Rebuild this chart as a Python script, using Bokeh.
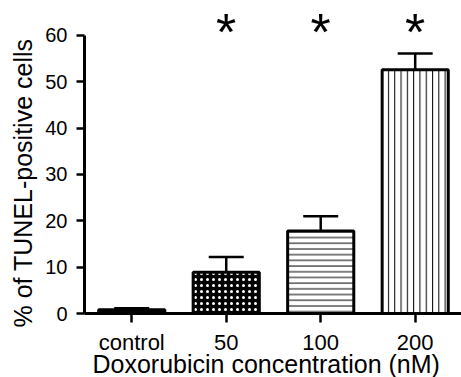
import math
from bokeh.plotting import figure
from bokeh.models import (ColumnDataSource, Whisker, TeeHead, FixedTicker, Range1d, Title)
from bokeh.core.properties import value
from bokeh.embed import file_html
from bokeh.resources import INLINE

# ---- data ----
categories = ["control", "50", "100", "200"]
means = [0.8, 8.9, 17.8, 52.6]
errors = [0.35, 3.3, 3.2, 3.5]
significance = ["", "*", "*", "*"]
y_ticks = [0, 10, 20, 30, 40, 50, 60]
x_label = "Doxorubicin concentration (nM)"
y_label = "% of TUNEL-positive cells"

xs = list(range(len(categories)))

FONT = "Liberation Sans"

p = figure(width=461, height=377, output_backend="svg", toolbar_location=None,
           x_range=Range1d(-0.5, 3.49), y_range=Range1d(0, 67.55),
           min_border_left=84, min_border_right=0, min_border_top=0, min_border_bottom=64)
p.outline_line_color = None
p.grid.visible = False
p.background_fill_color = "white"

styles = [
    dict(fill_color="black", hatch_pattern=" "),
    dict(fill_color="black", hatch_pattern="dot", hatch_color="white",
         hatch_scale=6, hatch_weight=4),
    dict(fill_color="white", hatch_pattern="horizontal_line", hatch_color="black",
         hatch_scale=5.7, hatch_weight=1),
    dict(fill_color="white", hatch_pattern="vertical_line", hatch_color="black",
         hatch_scale=6.3, hatch_weight=1),
]

for i in xs:
    p.vbar(x=[xs[i]], top=[means[i]], bottom=0, width=0.70, line_color="black",
           line_width=3, **styles[i])

src = ColumnDataSource(dict(x=xs,
                            upper=[m + e for m, e in zip(means, errors)],
                            lower=[m - e for m, e in zip(means, errors)]))
wh = Whisker(base="x", upper="upper", lower="lower", source=src,
             line_color="black", line_width=2.5,
             upper_head=TeeHead(size=35, line_width=2.5, line_color="black"),
             lower_head=TeeHead(size=35, line_width=2.5, line_color="black"))
p.add_layout(wh)

# significance asterisks
p.text(x=xs, y=[60.85] * len(xs), text=significance, text_align="center",
       text_baseline="alphabetic", text_font=value(FONT), text_font_size="52px",
       text_color="black")

# axes
xa = p.xaxis[0]
xa.ticker = FixedTicker(ticks=xs)
xa.major_label_overrides = {i: c for i, c in zip(xs, categories)}
xa.axis_line_width = 3
xa.major_tick_line_width = 2.5
xa.major_tick_out = 9
xa.major_tick_in = 0
xa.minor_tick_line_color = None
xa.major_label_text_font = FONT
xa.major_label_text_font_size = "22px"
xa.major_label_text_color = "black"
xa.major_label_standoff = 7

ya = p.yaxis[0]
ya.ticker = FixedTicker(ticks=y_ticks)
ya.bounds = (0, 60)
ya.axis_line_width = 3
ya.major_tick_line_width = 2.5
ya.major_tick_out = 8
ya.major_tick_in = 0
ya.minor_tick_line_color = None
ya.major_label_text_font = FONT
ya.major_label_text_font_size = "20px"
ya.major_label_text_color = "black"
ya.major_label_standoff = 9

p.add_layout(Title(text=x_label, align="left", offset=8, standoff=-16,
                   vertical_align="top",
                   text_font=FONT, text_font_size="25px", text_font_style="normal",
                   text_color="black"), "below")
p.add_layout(Title(text=y_label, align="left", offset=-14, standoff=12,
                   text_font=FONT, text_font_size="25px", text_font_style="normal",
                   text_color="black"), "left")

open("out.html", "w").write(file_html(p, INLINE))
